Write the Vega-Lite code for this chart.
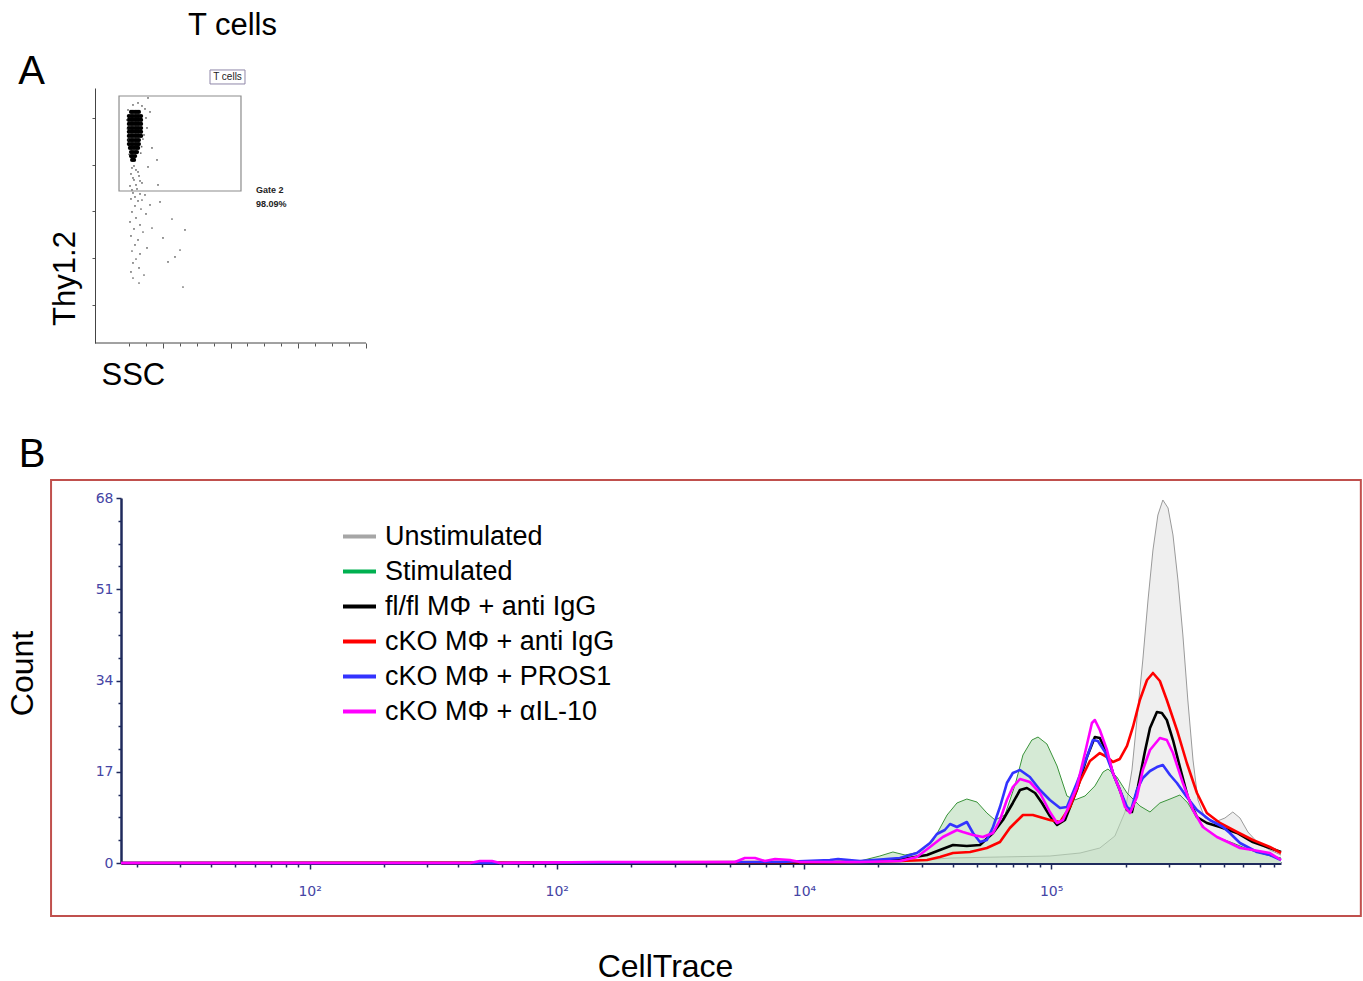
{
  "$schema": "https://vega.github.io/schema/vega-lite/v6.json",
  "background": "white",
  "padding": {"left": 6, "top": 10, "right": 0, "bottom": 0},
  "bounds": "flush",
  "spacing": 155,
  "config": {"view": {"stroke": null}, "font": "Liberation Sans", "axis": {"grid": false}},
  "datasets": {
    "dense": [
      {"ssc":133,"thy12":906},{"ssc":140,"thy12":906},{"ssc":148,"thy12":906},{"ssc":155,"thy12":906},{"ssc":162,"thy12":906},
      {"ssc":125,"thy12":890},{"ssc":133,"thy12":890},{"ssc":140,"thy12":890},{"ssc":148,"thy12":890},{"ssc":155,"thy12":890},{"ssc":162,"thy12":890},{"ssc":170,"thy12":890},
      {"ssc":125,"thy12":875},{"ssc":133,"thy12":875},{"ssc":140,"thy12":875},{"ssc":148,"thy12":875},{"ssc":155,"thy12":875},{"ssc":162,"thy12":875},{"ssc":170,"thy12":875},
      {"ssc":125,"thy12":859},{"ssc":133,"thy12":859},{"ssc":140,"thy12":859},{"ssc":148,"thy12":859},{"ssc":155,"thy12":859},{"ssc":162,"thy12":859},{"ssc":170,"thy12":859},
      {"ssc":125,"thy12":843},{"ssc":133,"thy12":843},{"ssc":140,"thy12":843},{"ssc":148,"thy12":843},{"ssc":155,"thy12":843},{"ssc":162,"thy12":843},{"ssc":170,"thy12":843},
      {"ssc":125,"thy12":828},{"ssc":133,"thy12":828},{"ssc":140,"thy12":828},{"ssc":148,"thy12":828},{"ssc":155,"thy12":828},{"ssc":162,"thy12":828},{"ssc":170,"thy12":828},
      {"ssc":125,"thy12":812},{"ssc":133,"thy12":812},{"ssc":140,"thy12":812},{"ssc":148,"thy12":812},{"ssc":155,"thy12":812},{"ssc":162,"thy12":812},{"ssc":170,"thy12":812},
      {"ssc":125,"thy12":796},{"ssc":133,"thy12":796},{"ssc":140,"thy12":796},{"ssc":148,"thy12":796},{"ssc":155,"thy12":796},{"ssc":162,"thy12":796},
      {"ssc":125,"thy12":780},{"ssc":133,"thy12":780},{"ssc":140,"thy12":780},{"ssc":148,"thy12":780},{"ssc":155,"thy12":780},{"ssc":162,"thy12":780},
      {"ssc":129,"thy12":765},{"ssc":136,"thy12":765},{"ssc":144,"thy12":765},{"ssc":152,"thy12":765},{"ssc":159,"thy12":765},
      {"ssc":133,"thy12":749},{"ssc":140,"thy12":749},{"ssc":148,"thy12":749},{"ssc":155,"thy12":749},
      {"ssc":133,"thy12":733},{"ssc":140,"thy12":733},{"ssc":148,"thy12":733},
      {"ssc":137,"thy12":718},{"ssc":144,"thy12":718}
    ],
    "sparse": [
      {"ssc":140.2,"thy12":933.4},{"ssc":158.7,"thy12":941.3},{"ssc":173.4,"thy12":929.5},{"ssc":184.5,"thy12":917.8},{"ssc":121.8,"thy12":913.8},
      {"ssc":188.2,"thy12":882.5},{"ssc":118.1,"thy12":874.6},{"ssc":191.9,"thy12":843.2},{"ssc":180.8,"thy12":815.8},{"ssc":121.8,"thy12":796.2},
      {"ssc":203.0,"thy12":906.0},{"ssc":195.6,"thy12":960.9},{"ssc":210.3,"thy12":764.8},{"ssc":228.8,"thy12":717.7},{"ssc":195.6,"thy12":690.3},
      {"ssc":177.0,"thy12":800.0},{"ssc":172.0,"thy12":770.0},{"ssc":120.0,"thy12":840.0},{"ssc":169.0,"thy12":745.0},{"ssc":126.0,"thy12":740.0},
      {"ssc":136.5,"thy12":686.4},{"ssc":151.3,"thy12":678.5},{"ssc":132.8,"thy12":663.0},{"ssc":162.4,"thy12":655.0},{"ssc":143.9,"thy12":639.3},
      {"ssc":173.4,"thy12":627.5},{"ssc":129.2,"thy12":615.8},{"ssc":155.0,"thy12":604.0},{"ssc":140.2,"thy12":588.3},{"ssc":184.5,"thy12":580.5},
      {"ssc":132.8,"thy12":564.8},{"ssc":158.7,"thy12":556.9},{"ssc":147.6,"thy12":537.3},{"ssc":169.7,"thy12":525.5},{"ssc":136.5,"thy12":513.8},
      {"ssc":188.2,"thy12":506.0},{"ssc":151.3,"thy12":490.3},{"ssc":129.2,"thy12":474.6},{"ssc":166.1,"thy12":462.8},{"ssc":143.9,"thy12":447.1},
      {"ssc":177.1,"thy12":435.3},{"ssc":132.8,"thy12":419.7},{"ssc":158.7,"thy12":404.0},{"ssc":147.6,"thy12":384.4},{"ssc":191.9,"thy12":372.6},
      {"ssc":136.5,"thy12":360.8},{"ssc":166.1,"thy12":349.1},{"ssc":151.3,"thy12":329.4},{"ssc":140.2,"thy12":313.8},{"ssc":162.4,"thy12":294.2},
      {"ssc":132.8,"thy12":278.5},{"ssc":180.8,"thy12":266.7},{"ssc":140.2,"thy12":254.9},{"ssc":162.4,"thy12":235.3},{"ssc":203.0,"thy12":541.4},
      {"ssc":210.3,"thy12":451.0},{"ssc":143.9,"thy12":694.2},{"ssc":158.7,"thy12":670.7},{"ssc":140.2,"thy12":647.1},{"ssc":166.1,"thy12":635.4},
      {"ssc":151.3,"thy12":619.7},{"ssc":136.5,"thy12":600.1},{"ssc":166.1,"thy12":584.4},{"ssc":147.6,"thy12":572.6},{"ssc":173.4,"thy12":560.8},
      {"ssc":239.9,"thy12":553.0},{"ssc":250.9,"thy12":411.8},{"ssc":332.1,"thy12":443.2},{"ssc":313.7,"thy12":364.7},{"ssc":295.2,"thy12":337.3},
      {"ssc":324.7,"thy12":219.6},{"ssc":284.1,"thy12":486.3},{"ssc":269.4,"thy12":317.7},{"ssc":232.5,"thy12":619.7}
    ],
    "histograms": [
      {"series":"Unstimulated","log_celltrace":1.237,"count":0},{"series":"Unstimulated","log_celltrace":3.579,"count":0},{"series":"Unstimulated","log_celltrace":4.388,"count":0.19},{"series":"Unstimulated","log_celltrace":4.591,"count":0.93},{"series":"Unstimulated","log_celltrace":4.793,"count":1.12},{"series":"Unstimulated","log_celltrace":4.995,"count":1.30},{"series":"Unstimulated","log_celltrace":5.117,"count":1.86},{"series":"Unstimulated","log_celltrace":5.197,"count":2.79},{"series":"Unstimulated","log_celltrace":5.258,"count":5.03},{"series":"Unstimulated","log_celltrace":5.299,"count":9.50},{"series":"Unstimulated","log_celltrace":5.327,"count":17.33},{"series":"Unstimulated","log_celltrace":5.351,"count":28.50},{"series":"Unstimulated","log_celltrace":5.371,"count":37.82},{"series":"Unstimulated","log_celltrace":5.392,"count":49.00},{"series":"Unstimulated","log_celltrace":5.412,"count":58.31},{"series":"Unstimulated","log_celltrace":5.432,"count":64.83},{"series":"Unstimulated","log_celltrace":5.452,"count":67.63},{"series":"Unstimulated","log_celltrace":5.473,"count":66.14},{"series":"Unstimulated","log_celltrace":5.493,"count":61.11},{"series":"Unstimulated","log_celltrace":5.513,"count":52.72},{"series":"Unstimulated","log_celltrace":5.533,"count":42.48},{"series":"Unstimulated","log_celltrace":5.553,"count":30.37},{"series":"Unstimulated","log_celltrace":5.574,"count":19.19},{"series":"Unstimulated","log_celltrace":5.594,"count":11.74},{"series":"Unstimulated","log_celltrace":5.622,"count":8.38},{"series":"Unstimulated","log_celltrace":5.663,"count":7.64},{"series":"Unstimulated","log_celltrace":5.703,"count":8.38},{"series":"Unstimulated","log_celltrace":5.735,"count":9.50},{"series":"Unstimulated","log_celltrace":5.764,"count":8.38},{"series":"Unstimulated","log_celltrace":5.796,"count":5.78},{"series":"Unstimulated","log_celltrace":5.837,"count":3.73},{"series":"Unstimulated","log_celltrace":5.885,"count":2.42},{"series":"Unstimulated","log_celltrace":5.930,"count":1.49},
      {"series":"Stimulated","log_celltrace":1.237,"count":0},{"series":"Stimulated","log_celltrace":3.579,"count":0},{"series":"Stimulated","log_celltrace":4.146,"count":0.19},{"series":"Stimulated","log_celltrace":4.227,"count":0.37},{"series":"Stimulated","log_celltrace":4.307,"count":1.30},{"series":"Stimulated","log_celltrace":4.360,"count":2.05},{"series":"Stimulated","log_celltrace":4.409,"count":1.49},{"series":"Stimulated","log_celltrace":4.469,"count":2.05},{"series":"Stimulated","log_celltrace":4.522,"count":4.10},{"series":"Stimulated","log_celltrace":4.579,"count":8.94},{"series":"Stimulated","log_celltrace":4.619,"count":11.18},{"series":"Stimulated","log_celltrace":4.659,"count":11.92},{"series":"Stimulated","log_celltrace":4.700,"count":11.36},{"series":"Stimulated","log_celltrace":4.740,"count":9.32},{"series":"Stimulated","log_celltrace":4.773,"count":8.01},{"series":"Stimulated","log_celltrace":4.813,"count":8.94},{"series":"Stimulated","log_celltrace":4.854,"count":14.53},{"series":"Stimulated","log_celltrace":4.886,"count":20.12},{"series":"Stimulated","log_celltrace":4.922,"count":22.91},{"series":"Stimulated","log_celltrace":4.947,"count":23.47},{"series":"Stimulated","log_celltrace":4.983,"count":22.17},{"series":"Stimulated","log_celltrace":5.024,"count":18.07},{"series":"Stimulated","log_celltrace":5.064,"count":12.48},{"series":"Stimulated","log_celltrace":5.096,"count":11.74},{"series":"Stimulated","log_celltrace":5.137,"count":12.48},{"series":"Stimulated","log_celltrace":5.177,"count":14.35},{"series":"Stimulated","log_celltrace":5.210,"count":16.95},{"series":"Stimulated","log_celltrace":5.230,"count":17.51},{"series":"Stimulated","log_celltrace":5.266,"count":16.02},{"series":"Stimulated","log_celltrace":5.307,"count":13.04},{"series":"Stimulated","log_celltrace":5.359,"count":10.62},{"series":"Stimulated","log_celltrace":5.400,"count":9.50},{"series":"Stimulated","log_celltrace":5.440,"count":11.18},{"series":"Stimulated","log_celltrace":5.481,"count":11.92},{"series":"Stimulated","log_celltrace":5.521,"count":12.67},{"series":"Stimulated","log_celltrace":5.553,"count":11.18},{"series":"Stimulated","log_celltrace":5.582,"count":8.94},{"series":"Stimulated","log_celltrace":5.622,"count":6.52},{"series":"Stimulated","log_celltrace":5.671,"count":4.84},{"series":"Stimulated","log_celltrace":5.735,"count":3.73},{"series":"Stimulated","log_celltrace":5.804,"count":2.42},{"series":"Stimulated","log_celltrace":5.873,"count":1.49},{"series":"Stimulated","log_celltrace":5.930,"count":0.93},
      {"series":"fl/fl MΦ + anti IgG","log_celltrace":1.237,"count":0},{"series":"fl/fl MΦ + anti IgG","log_celltrace":3.903,"count":0},{"series":"fl/fl MΦ + anti IgG","log_celltrace":4.146,"count":0.19},{"series":"fl/fl MΦ + anti IgG","log_celltrace":4.267,"count":0.37},{"series":"fl/fl MΦ + anti IgG","log_celltrace":4.401,"count":0.75},{"series":"fl/fl MΦ + anti IgG","log_celltrace":4.498,"count":1.49},{"series":"fl/fl MΦ + anti IgG","log_celltrace":4.550,"count":2.42},{"series":"fl/fl MΦ + anti IgG","log_celltrace":4.603,"count":3.35},{"series":"fl/fl MΦ + anti IgG","log_celltrace":4.659,"count":3.17},{"series":"fl/fl MΦ + anti IgG","log_celltrace":4.712,"count":3.35},{"series":"fl/fl MΦ + anti IgG","log_celltrace":4.765,"count":5.59},{"series":"fl/fl MΦ + anti IgG","log_celltrace":4.805,"count":8.01},{"series":"fl/fl MΦ + anti IgG","log_celltrace":4.845,"count":11.18},{"series":"fl/fl MΦ + anti IgG","log_celltrace":4.874,"count":13.60},{"series":"fl/fl MΦ + anti IgG","log_celltrace":4.902,"count":13.97},{"series":"fl/fl MΦ + anti IgG","log_celltrace":4.935,"count":13.04},{"series":"fl/fl MΦ + anti IgG","log_celltrace":4.963,"count":11.18},{"series":"fl/fl MΦ + anti IgG","log_celltrace":4.995,"count":8.76},{"series":"fl/fl MΦ + anti IgG","log_celltrace":5.024,"count":7.08},{"series":"fl/fl MΦ + anti IgG","log_celltrace":5.056,"count":8.01},{"series":"fl/fl MΦ + anti IgG","log_celltrace":5.104,"count":13.60},{"series":"fl/fl MΦ + anti IgG","log_celltrace":5.145,"count":19.75},{"series":"fl/fl MΦ + anti IgG","log_celltrace":5.177,"count":23.47},{"series":"fl/fl MΦ + anti IgG","log_celltrace":5.197,"count":23.29},{"series":"fl/fl MΦ + anti IgG","log_celltrace":5.226,"count":20.49},{"series":"fl/fl MΦ + anti IgG","log_celltrace":5.250,"count":16.77},{"series":"fl/fl MΦ + anti IgG","log_celltrace":5.278,"count":13.60},{"series":"fl/fl MΦ + anti IgG","log_celltrace":5.307,"count":9.87},{"series":"fl/fl MΦ + anti IgG","log_celltrace":5.327,"count":9.50},{"series":"fl/fl MΦ + anti IgG","log_celltrace":5.351,"count":14.16},{"series":"fl/fl MΦ + anti IgG","log_celltrace":5.379,"count":20.68},{"series":"fl/fl MΦ + anti IgG","log_celltrace":5.400,"count":25.15},{"series":"fl/fl MΦ + anti IgG","log_celltrace":5.428,"count":28.13},{"series":"fl/fl MΦ + anti IgG","log_celltrace":5.448,"count":27.95},{"series":"fl/fl MΦ + anti IgG","log_celltrace":5.468,"count":26.64},{"series":"fl/fl MΦ + anti IgG","log_celltrace":5.493,"count":22.91},{"series":"fl/fl MΦ + anti IgG","log_celltrace":5.521,"count":17.88},{"series":"fl/fl MΦ + anti IgG","log_celltrace":5.553,"count":12.30},{"series":"fl/fl MΦ + anti IgG","log_celltrace":5.590,"count":8.57},{"series":"fl/fl MΦ + anti IgG","log_celltrace":5.630,"count":7.45},{"series":"fl/fl MΦ + anti IgG","log_celltrace":5.683,"count":6.71},{"series":"fl/fl MΦ + anti IgG","log_celltrace":5.752,"count":5.59},{"series":"fl/fl MΦ + anti IgG","log_celltrace":5.816,"count":3.91},{"series":"fl/fl MΦ + anti IgG","log_celltrace":5.885,"count":2.79},{"series":"fl/fl MΦ + anti IgG","log_celltrace":5.930,"count":2.05},
      {"series":"cKO MΦ + anti IgG","log_celltrace":1.237,"count":0},{"series":"cKO MΦ + anti IgG","log_celltrace":4.186,"count":0.19},{"series":"cKO MΦ + anti IgG","log_celltrace":4.388,"count":0.37},{"series":"cKO MΦ + anti IgG","log_celltrace":4.498,"count":0.56},{"series":"cKO MΦ + anti IgG","log_celltrace":4.550,"count":1.12},{"series":"cKO MΦ + anti IgG","log_celltrace":4.603,"count":1.86},{"series":"cKO MΦ + anti IgG","log_celltrace":4.672,"count":2.05},{"series":"cKO MΦ + anti IgG","log_celltrace":4.740,"count":2.79},{"series":"cKO MΦ + anti IgG","log_celltrace":4.793,"count":3.91},{"series":"cKO MΦ + anti IgG","log_celltrace":4.833,"count":6.52},{"series":"cKO MΦ + anti IgG","log_celltrace":4.886,"count":8.94},{"series":"cKO MΦ + anti IgG","log_celltrace":4.926,"count":8.94},{"series":"cKO MΦ + anti IgG","log_celltrace":4.995,"count":8.01},{"series":"cKO MΦ + anti IgG","log_celltrace":5.036,"count":7.64},{"series":"cKO MΦ + anti IgG","log_celltrace":5.076,"count":10.43},{"series":"cKO MΦ + anti IgG","log_celltrace":5.117,"count":15.28},{"series":"cKO MΦ + anti IgG","log_celltrace":5.157,"count":19.00},{"series":"cKO MΦ + anti IgG","log_celltrace":5.197,"count":20.49},{"series":"cKO MΦ + anti IgG","log_celltrace":5.226,"count":19.75},{"series":"cKO MΦ + anti IgG","log_celltrace":5.250,"count":18.82},{"series":"cKO MΦ + anti IgG","log_celltrace":5.278,"count":19.38},{"series":"cKO MΦ + anti IgG","log_celltrace":5.307,"count":21.80},{"series":"cKO MΦ + anti IgG","log_celltrace":5.331,"count":25.34},{"series":"cKO MΦ + anti IgG","log_celltrace":5.359,"count":30.37},{"series":"cKO MΦ + anti IgG","log_celltrace":5.388,"count":34.09},{"series":"cKO MΦ + anti IgG","log_celltrace":5.412,"count":35.40},{"series":"cKO MΦ + anti IgG","log_celltrace":5.440,"count":33.91},{"series":"cKO MΦ + anti IgG","log_celltrace":5.468,"count":30.37},{"series":"cKO MΦ + anti IgG","log_celltrace":5.509,"count":24.78},{"series":"cKO MΦ + anti IgG","log_celltrace":5.549,"count":18.63},{"series":"cKO MΦ + anti IgG","log_celltrace":5.590,"count":13.04},{"series":"cKO MΦ + anti IgG","log_celltrace":5.630,"count":9.32},{"series":"cKO MΦ + anti IgG","log_celltrace":5.683,"count":7.45},{"series":"cKO MΦ + anti IgG","log_celltrace":5.752,"count":5.78},{"series":"cKO MΦ + anti IgG","log_celltrace":5.816,"count":4.28},{"series":"cKO MΦ + anti IgG","log_celltrace":5.885,"count":2.98},{"series":"cKO MΦ + anti IgG","log_celltrace":5.930,"count":1.86},
      {"series":"cKO MΦ + PROS1","log_celltrace":1.237,"count":0},{"series":"cKO MΦ + PROS1","log_celltrace":2.770,"count":0},{"series":"cKO MΦ + PROS1","log_celltrace":3.903,"count":0.19},{"series":"cKO MΦ + PROS1","log_celltrace":4.105,"count":0.56},{"series":"cKO MΦ + PROS1","log_celltrace":4.138,"count":0.75},{"series":"cKO MΦ + PROS1","log_celltrace":4.227,"count":0.37},{"series":"cKO MΦ + PROS1","log_celltrace":4.388,"count":0.93},{"series":"cKO MΦ + PROS1","log_celltrace":4.457,"count":1.86},{"series":"cKO MΦ + PROS1","log_celltrace":4.510,"count":3.73},{"series":"cKO MΦ + PROS1","log_celltrace":4.538,"count":5.40},{"series":"cKO MΦ + PROS1","log_celltrace":4.570,"count":6.15},{"series":"cKO MΦ + PROS1","log_celltrace":4.591,"count":7.27},{"series":"cKO MΦ + PROS1","log_celltrace":4.619,"count":6.71},{"series":"cKO MΦ + PROS1","log_celltrace":4.659,"count":7.64},{"series":"cKO MΦ + PROS1","log_celltrace":4.684,"count":5.59},{"series":"cKO MΦ + PROS1","log_celltrace":4.712,"count":3.91},{"series":"cKO MΦ + PROS1","log_celltrace":4.740,"count":4.28},{"series":"cKO MΦ + PROS1","log_celltrace":4.765,"count":6.71},{"series":"cKO MΦ + PROS1","log_celltrace":4.793,"count":10.43},{"series":"cKO MΦ + PROS1","log_celltrace":4.821,"count":14.90},{"series":"cKO MΦ + PROS1","log_celltrace":4.845,"count":16.77},{"series":"cKO MΦ + PROS1","log_celltrace":4.874,"count":17.33},{"series":"cKO MΦ + PROS1","log_celltrace":4.914,"count":16.02},{"series":"cKO MΦ + PROS1","log_celltrace":4.955,"count":13.60},{"series":"cKO MΦ + PROS1","log_celltrace":4.995,"count":11.74},{"series":"cKO MΦ + PROS1","log_celltrace":5.036,"count":10.25},{"series":"cKO MΦ + PROS1","log_celltrace":5.064,"count":10.43},{"series":"cKO MΦ + PROS1","log_celltrace":5.104,"count":14.90},{"series":"cKO MΦ + PROS1","log_celltrace":5.145,"count":19.75},{"series":"cKO MΦ + PROS1","log_celltrace":5.169,"count":22.91},{"series":"cKO MΦ + PROS1","log_celltrace":5.189,"count":22.73},{"series":"cKO MΦ + PROS1","log_celltrace":5.218,"count":20.68},{"series":"cKO MΦ + PROS1","log_celltrace":5.250,"count":16.77},{"series":"cKO MΦ + PROS1","log_celltrace":5.278,"count":13.60},{"series":"cKO MΦ + PROS1","log_celltrace":5.307,"count":10.43},{"series":"cKO MΦ + PROS1","log_celltrace":5.323,"count":9.87},{"series":"cKO MΦ + PROS1","log_celltrace":5.347,"count":13.60},{"series":"cKO MΦ + PROS1","log_celltrace":5.371,"count":15.84},{"series":"cKO MΦ + PROS1","log_celltrace":5.400,"count":17.14},{"series":"cKO MΦ + PROS1","log_celltrace":5.428,"count":17.88},{"series":"cKO MΦ + PROS1","log_celltrace":5.452,"count":18.26},{"series":"cKO MΦ + PROS1","log_celltrace":5.481,"count":16.39},{"series":"cKO MΦ + PROS1","log_celltrace":5.509,"count":14.90},{"series":"cKO MΦ + PROS1","log_celltrace":5.549,"count":12.30},{"series":"cKO MΦ + PROS1","log_celltrace":5.590,"count":9.87},{"series":"cKO MΦ + PROS1","log_celltrace":5.642,"count":8.01},{"series":"cKO MΦ + PROS1","log_celltrace":5.695,"count":6.71},{"series":"cKO MΦ + PROS1","log_celltrace":5.723,"count":5.59},{"series":"cKO MΦ + PROS1","log_celltrace":5.764,"count":3.73},{"series":"cKO MΦ + PROS1","log_celltrace":5.833,"count":2.05},{"series":"cKO MΦ + PROS1","log_celltrace":5.885,"count":1.49},{"series":"cKO MΦ + PROS1","log_celltrace":5.930,"count":0.56},
      {"series":"cKO MΦ + αIL-10","log_celltrace":1.237,"count":0},{"series":"cKO MΦ + αIL-10","log_celltrace":2.649,"count":0},{"series":"cKO MΦ + αIL-10","log_celltrace":2.689,"count":0.37},{"series":"cKO MΦ + αIL-10","log_celltrace":2.738,"count":0.37},{"series":"cKO MΦ + αIL-10","log_celltrace":2.770,"count":0},{"series":"cKO MΦ + αIL-10","log_celltrace":3.175,"count":0.19},{"series":"cKO MΦ + αIL-10","log_celltrace":3.579,"count":0.19},{"series":"cKO MΦ + αIL-10","log_celltrace":3.721,"count":0.19},{"series":"cKO MΦ + αIL-10","log_celltrace":3.761,"count":0.93},{"series":"cKO MΦ + αIL-10","log_celltrace":3.802,"count":0.93},{"series":"cKO MΦ + αIL-10","log_celltrace":3.842,"count":0.37},{"series":"cKO MΦ + αIL-10","log_celltrace":3.883,"count":0.75},{"series":"cKO MΦ + αIL-10","log_celltrace":3.943,"count":0.56},{"series":"cKO MΦ + αIL-10","log_celltrace":3.984,"count":0.19},{"series":"cKO MΦ + αIL-10","log_celltrace":4.227,"count":0.19},{"series":"cKO MΦ + αIL-10","log_celltrace":4.388,"count":0.37},{"series":"cKO MΦ + αIL-10","log_celltrace":4.457,"count":1.12},{"series":"cKO MΦ + αIL-10","log_celltrace":4.510,"count":2.98},{"series":"cKO MΦ + αIL-10","log_celltrace":4.562,"count":4.84},{"series":"cKO MΦ + αIL-10","log_celltrace":4.619,"count":6.15},{"series":"cKO MΦ + αIL-10","log_celltrace":4.643,"count":5.78},{"series":"cKO MΦ + αIL-10","log_celltrace":4.684,"count":5.22},{"series":"cKO MΦ + αIL-10","log_celltrace":4.724,"count":4.84},{"series":"cKO MΦ + αIL-10","log_celltrace":4.765,"count":5.59},{"series":"cKO MΦ + αIL-10","log_celltrace":4.793,"count":8.01},{"series":"cKO MΦ + αIL-10","log_celltrace":4.821,"count":11.74},{"series":"cKO MΦ + αIL-10","log_celltrace":4.845,"count":14.16},{"series":"cKO MΦ + αIL-10","log_celltrace":4.874,"count":15.65},{"series":"cKO MΦ + αIL-10","log_celltrace":4.914,"count":15.09},{"series":"cKO MΦ + αIL-10","log_celltrace":4.955,"count":13.04},{"series":"cKO MΦ + αIL-10","log_celltrace":4.995,"count":9.50},{"series":"cKO MΦ + αIL-10","log_celltrace":5.024,"count":7.45},{"series":"cKO MΦ + αIL-10","log_celltrace":5.048,"count":8.01},{"series":"cKO MΦ + αIL-10","log_celltrace":5.104,"count":14.16},{"series":"cKO MΦ + αIL-10","log_celltrace":5.137,"count":20.49},{"series":"cKO MΦ + αIL-10","log_celltrace":5.165,"count":26.08},{"series":"cKO MΦ + αIL-10","log_celltrace":5.177,"count":26.64},{"series":"cKO MΦ + αIL-10","log_celltrace":5.197,"count":24.78},{"series":"cKO MΦ + αIL-10","log_celltrace":5.226,"count":21.05},{"series":"cKO MΦ + αIL-10","log_celltrace":5.250,"count":16.77},{"series":"cKO MΦ + αIL-10","log_celltrace":5.278,"count":13.60},{"series":"cKO MΦ + αIL-10","log_celltrace":5.299,"count":10.43},{"series":"cKO MΦ + αIL-10","log_celltrace":5.319,"count":9.32},{"series":"cKO MΦ + αIL-10","log_celltrace":5.347,"count":12.30},{"series":"cKO MΦ + αIL-10","log_celltrace":5.371,"count":17.33},{"series":"cKO MΦ + αIL-10","log_celltrace":5.400,"count":21.05},{"series":"cKO MΦ + αIL-10","log_celltrace":5.440,"count":23.29},{"series":"cKO MΦ + αIL-10","log_celltrace":5.468,"count":22.91},{"series":"cKO MΦ + αIL-10","log_celltrace":5.493,"count":20.49},{"series":"cKO MΦ + αIL-10","log_celltrace":5.533,"count":14.90},{"series":"cKO MΦ + αIL-10","log_celltrace":5.574,"count":9.87},{"series":"cKO MΦ + αIL-10","log_celltrace":5.614,"count":6.71},{"series":"cKO MΦ + αIL-10","log_celltrace":5.671,"count":4.84},{"series":"cKO MΦ + αIL-10","log_celltrace":5.723,"count":3.73},{"series":"cKO MΦ + αIL-10","log_celltrace":5.764,"count":2.79},{"series":"cKO MΦ + αIL-10","log_celltrace":5.816,"count":2.42},{"series":"cKO MΦ + αIL-10","log_celltrace":5.885,"count":1.86},{"series":"cKO MΦ + αIL-10","log_celltrace":5.930,"count":0.56}
    ]
  },
  "vconcat": [
    {
      "width": 245,
      "height": 255,
      "title": {"text": "T cells", "font": "Liberation Sans", "fontSize": 31, "fontWeight": "normal", "color": "#000000", "anchor": "middle", "frame": "group", "dx": -11, "offset": -14, "baseline": "alphabetic"},
      "layer": [
        {
          "data": {"values": [{}]},
          "mark": {"type": "rule", "color": "#444444", "strokeWidth": 1},
          "encoding": {
            "x": {"datum": 0, "type": "quantitative", "scale": {"domain": [95.94, 1000], "nice": false, "zero": false}},
            "x2": {"datum": 1000},
            "y": {"datum": 0, "type": "quantitative", "scale": {"domain": [0, 1000], "nice": false}}
          }
        },
        {
          "data": {"name": "dense"},
          "mark": {"type": "circle", "size": 18, "color": "#000000", "opacity": 1},
          "encoding": {
            "x": {"field": "ssc", "type": "quantitative",
              "axis": {"title": "SSC", "domain": false, "labels": false, "ticks": true, "tickCount": 100,
                "values": [125, 187.5, 250, 312.5, 375, 437.5, 500, 562.5, 625, 687.5, 750, 812.5, 875, 937.5, 1000],
                "tickColor": "#555555", "tickWidth": 1,
                "tickSize": {"condition": {"test": "datum.value % 250 === 0", "value": 5}, "value": 3},
                "titleFont": "Liberation Sans", "titleFontSize": 31, "titleFontWeight": "normal", "titleColor": "#000000",
                "titleX": -20, "titleY": 41, "titleAlign": "left", "titleBaseline": "alphabetic"}},
            "y": {"field": "thy12", "type": "quantitative",
              "axis": {"title": "Thy1.2", "offset": 26, "domain": true, "domainColor": "#444444", "domainWidth": 1, "labels": false, "tickCount": 100,
                "values": [149, 333, 516, 700, 884], "tickColor": "#555555", "tickSize": 3,
                "titleFont": "Liberation Sans", "titleFontSize": 31, "titleFontWeight": "normal", "titleColor": "#000000",
                "titleX": -30, "titleY": 190, "titleAngle": -90, "titleAlign": "center", "titleBaseline": "middle"}}
          }
        },
        {
          "data": {"name": "sparse"},
          "mark": {"type": "circle", "size": 3, "color": "#333333", "opacity": 0.8},
          "encoding": {
            "x": {"field": "ssc", "type": "quantitative"},
            "y": {"field": "thy12", "type": "quantitative"}
          }
        },
        {
          "data": {"values": [{}]},
          "mark": {"type": "rect", "filled": false, "color": "#8c8c8c", "strokeWidth": 1.2},
          "encoding": {
            "x": {"datum": 88.6, "type": "quantitative"}, "x2": {"datum": 538.7},
            "y": {"datum": 968.7, "type": "quantitative"}, "y2": {"datum": 596.1}
          }
        },
        {
          "data": {"values": [{}]},
          "mark": {"type": "rect", "fill": "#ffffff", "stroke": "#8f86a8", "strokeWidth": 1},
          "encoding": {
            "x": {"datum": 424.4, "type": "quantitative"}, "x2": {"datum": 553.5},
            "y": {"datum": 1070.7, "type": "quantitative"}, "y2": {"datum": 1015.8}
          }
        },
        {
          "data": {"values": [{}]},
          "mark": {"type": "text", "text": "T cells", "font": "Liberation Sans", "fontSize": 10, "color": "#222222", "align": "center", "baseline": "middle"},
          "encoding": {"x": {"datum": 489, "type": "quantitative"}, "y": {"datum": 1043, "type": "quantitative"}}
        },
        {
          "data": {"values": [{}]},
          "mark": {"type": "text", "text": "Gate 2", "font": "Liberation Sans", "fontSize": 9, "fontWeight": "bold", "color": "#222222", "align": "left", "baseline": "middle"},
          "encoding": {"x": {"datum": 594.1, "type": "quantitative"}, "y": {"datum": 600.1, "type": "quantitative"}}
        },
        {
          "data": {"values": [{}]},
          "mark": {"type": "text", "text": "98.09%", "font": "Liberation Sans", "fontSize": 9, "fontWeight": "bold", "color": "#222222", "align": "left", "baseline": "middle"},
          "encoding": {"x": {"datum": 594.1, "type": "quantitative"}, "y": {"datum": 545.2, "type": "quantitative"}}
        },
        {
          "data": {"values": [{}]},
          "mark": {"type": "text", "text": "A", "font": "Liberation Sans", "fontSize": 40, "color": "#000000", "align": "center", "baseline": "middle"},
          "encoding": {"x": {"datum": -234.3, "type": "quantitative"}, "y": {"datum": 1061, "type": "quantitative"}}
        }
      ]
    },
    {
      "width": 1160,
      "height": 365,
      "layer": [
        {
          "data": {"values": [{}]},
          "mark": {"type": "rect", "filled": false, "color": "#c0504d", "strokeWidth": 2},
          "encoding": {
            "x": {"datum": 0.954, "type": "quantitative", "scale": {"domain": [1.237, 5.93], "nice": false, "zero": false}},
            "x2": {"datum": 6.253},
            "y": {"datum": 71.35, "type": "quantitative", "scale": {"domain": [0, 68], "nice": false}},
            "y2": {"datum": -9.87}
          }
        },
        {
          "data": {"values": [{}]},
          "mark": {"type": "text", "text": "B", "font": "Liberation Sans", "fontSize": 40, "color": "#000000", "align": "center", "baseline": "middle"},
          "encoding": {"x": {"datum": 0.877, "type": "quantitative"}, "y": {"datum": 76.0, "type": "quantitative"}}
        },
        {
          "data": {"name": "histograms"},
          "transform": [{"filter": "datum.series === 'Unstimulated'"}],
          "mark": {"type": "area", "fill": "#efefef", "fillOpacity": 1, "line": {"stroke": "#9a9a9a", "strokeWidth": 1}},
          "encoding": {
            "x": {"field": "log_celltrace", "type": "quantitative"},
            "y": {"field": "count", "type": "quantitative"}
          }
        },
        {
          "data": {"name": "histograms"},
          "transform": [{"filter": "datum.series === 'Stimulated'"}],
          "mark": {"type": "area", "fill": "#b9dcb9", "fillOpacity": 0.6, "line": {"stroke": "#3a943a", "strokeWidth": 1}},
          "encoding": {
            "x": {"field": "log_celltrace", "type": "quantitative"},
            "y": {"field": "count", "type": "quantitative"}
          }
        },
        {
          "data": {"name": "histograms"},
          "transform": [{"filter": "datum.series !== 'Unstimulated' && datum.series !== 'Stimulated'"}],
          "mark": {"type": "line", "strokeWidth": 2.6, "strokeJoin": "round"},
          "encoding": {
            "x": {"field": "log_celltrace", "type": "quantitative",
              "axis": {"title": "CellTrace", "tickCount": 100,
                "values": [1.301, 1.477, 1.602, 1.699, 1.778, 1.845, 1.903, 1.954, 2, 2.301, 2.477, 2.602, 2.699, 2.778, 2.845, 2.903, 2.954, 3, 3.301, 3.477, 3.602, 3.699, 3.778, 3.845, 3.903, 3.954, 4, 4.301, 4.477, 4.602, 4.699, 4.778, 4.845, 4.903, 4.954, 5, 5.301, 5.477, 5.602, 5.699, 5.778, 5.845, 5.903],
                "labelExpr": "datum.value === 2 ? '10²' : datum.value === 3 ? '10²' : datum.value === 4 ? '10⁴' : datum.value === 5 ? '10⁵' : ''",
                "labelOverlap": false, "labelFlush": false,
                "domainColor": "#1f2a5c", "domainWidth": 3, "tickColor": "#1f2a5c", "tickWidth": 1.5,
                "tickSize": {"condition": {"test": "datum.value === 2 || datum.value === 3 || datum.value === 4 || datum.value === 5", "value": 6}, "value": 4},
                "labelFont": "DejaVu Sans", "labelFontSize": 14, "labelColor": "#4545a5", "labelPadding": 15,
                "titleFont": "Liberation Sans", "titleFontSize": 32, "titleFontWeight": "normal", "titleColor": "#000000",
                "titleX": 544, "titleY": 113, "titleAlign": "center", "titleBaseline": "alphabetic"}},
            "y": {"field": "count", "type": "quantitative",
              "axis": {"title": "Count", "tickCount": 100, "format": "d",
                "values": [0, 4.25, 8.5, 12.75, 17, 21.25, 25.5, 29.75, 34, 38.25, 42.5, 46.75, 51, 55.25, 59.5, 63.75, 68],
                "labelExpr": "datum.value % 17 === 0 ? datum.label : ''",
                "labelOverlap": false,
                "domainColor": "#1f2a5c", "domainWidth": 2.5, "tickColor": "#1f2a5c", "tickWidth": 1.5,
                "tickSize": {"condition": {"test": "datum.value % 17 === 0", "value": 5}, "value": 3},
                "labelFont": "DejaVu Sans", "labelFontSize": 14, "labelColor": "#4545a5", "labelPadding": 3,
                "titleFont": "Liberation Sans", "titleFontSize": 32, "titleFontWeight": "normal", "titleColor": "#000000",
                "titleX": -99, "titleY": 175, "titleAngle": -90, "titleAlign": "center", "titleBaseline": "middle"}},
            "color": {"field": "series", "type": "nominal",
              "scale": {"domain": ["Unstimulated", "Stimulated", "fl/fl MΦ + anti IgG", "cKO MΦ + anti IgG", "cKO MΦ + PROS1", "cKO MΦ + αIL-10"],
                "range": ["#a6a6a6", "#00b050", "#000000", "#ff0000", "#3333ff", "#ff00ff"]},
              "legend": {"title": null, "orient": "none", "legendX": 220, "legendY": 430, "padding": 0,
                "symbolType": "stroke", "symbolSize": 1089, "symbolStrokeWidth": 4, "symbolOpacity": 1,
                "labelFont": "Liberation Sans", "labelFontSize": 27, "labelColor": "#000000", "labelOffset": 7, "labelLimit": 500,
                "rowPadding": 3}}
          }
        }
      ]
    }
  ]
}
